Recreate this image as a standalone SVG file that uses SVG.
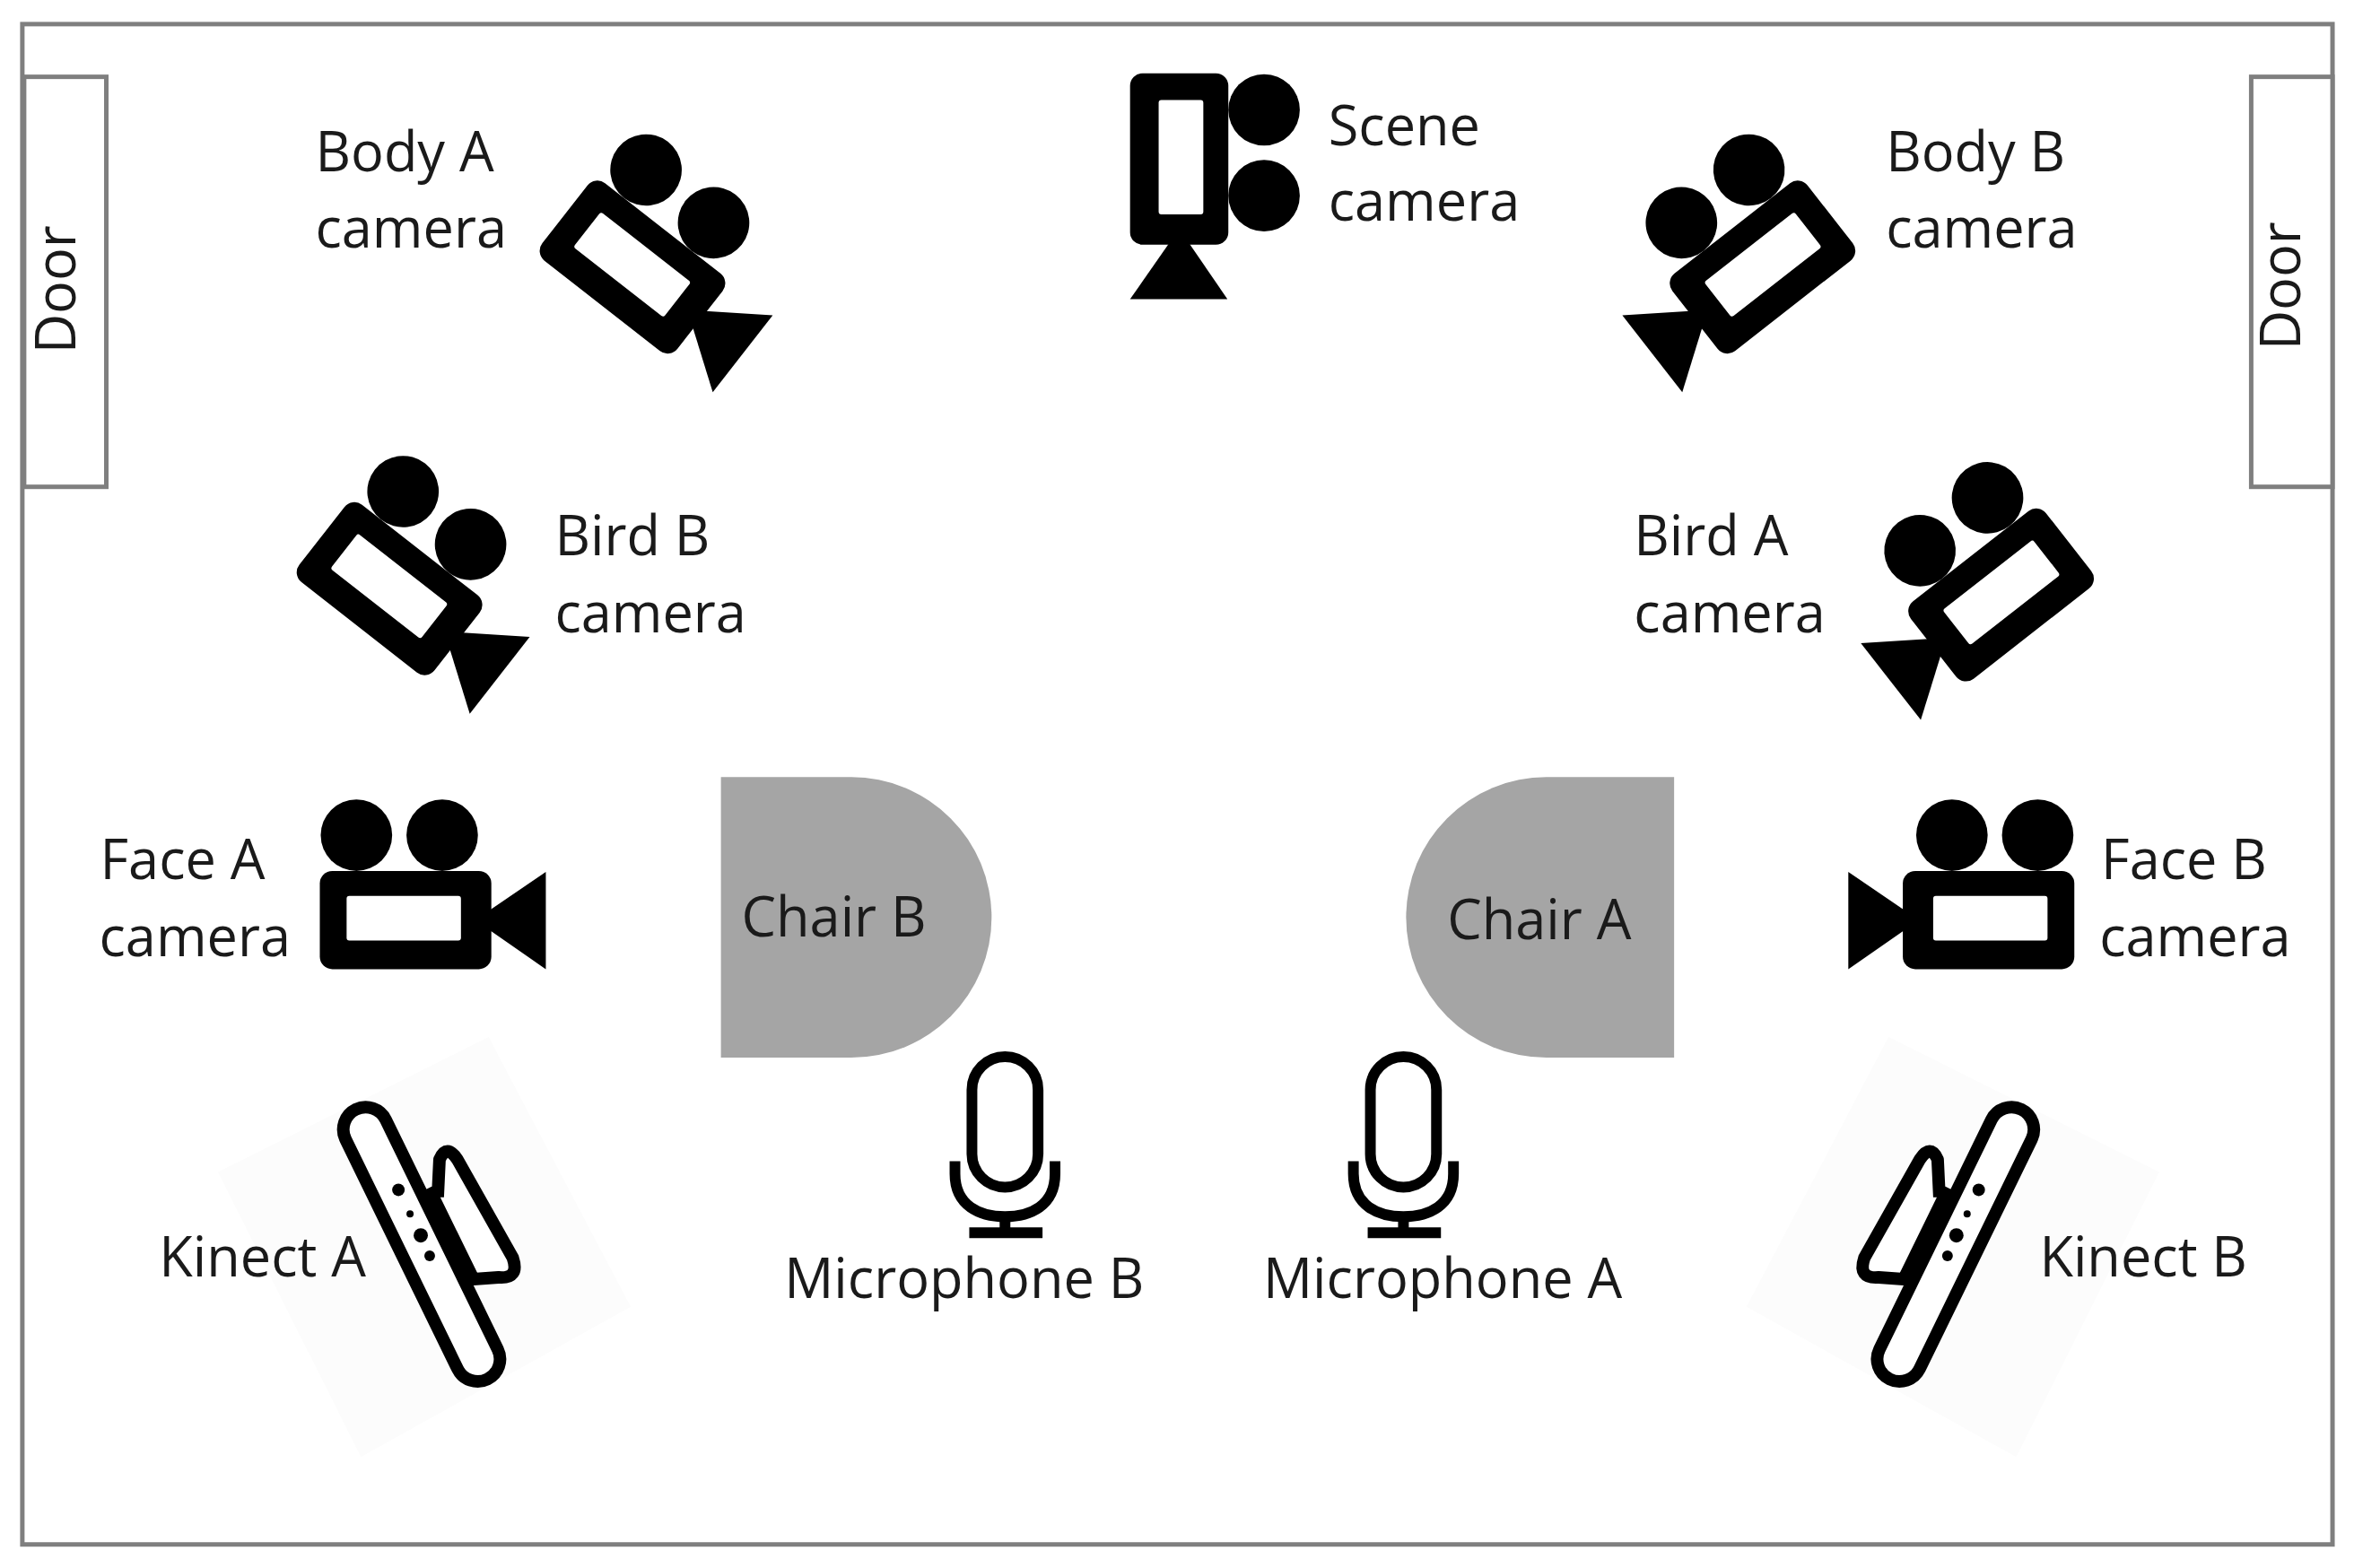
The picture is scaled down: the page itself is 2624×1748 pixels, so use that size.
<svg xmlns="http://www.w3.org/2000/svg" width="2624" height="1748" viewBox="0 0 2624 1748">
<style>
text{font-family:"Open Sans","Noto Sans","Liberation Sans",sans-serif;font-size:61.5px;fill:#1a1a1a}
.wall{fill:#fff;stroke:#7f7f7f;stroke-width:5}
.chair{fill:#a5a5a5}
.mic{fill:none;stroke:#000;stroke-width:12;stroke-linecap:butt}
.kin{fill:#fff;stroke:#000;stroke-width:14;stroke-linejoin:round}
.haze{fill:#fcfcfc}
</style>
<defs>
<g id="cam">
<rect x="-96" y="-55" width="192" height="110" rx="14" fill="#000"/>
<rect x="-66" y="-27" width="128" height="50" rx="3" fill="#fff"/>
<circle cx="-55" cy="-95" r="40" fill="#000"/>
<circle cx="41" cy="-95" r="40" fill="#000"/>
<path d="M78 0 157 -54V55Z" fill="#000"/>
</g>
<g id="micicon">
<rect x="-37" y="-153" width="74" height="146" rx="37" class="mic"/>
<path d="M-56 -36V-22C-56 14 -28 26 0 26S56 14 56 -22V-36" class="mic"/>
<path d="M0 26V44" class="mic"/>
<path d="M-40 44H42" class="mic"/>
</g>
<g id="kinicon">
<polygon class="haze" points="547,1161 706,1463 404,1631 244,1312"/>
<path class="kin" d="M490 1340 492 1298Q500 1280 512 1298L574 1408Q582 1432 558 1430L530 1432 480 1330"/>
<rect class="kin" x="-25" y="-168" width="50" height="336" rx="25" transform="translate(472 1393) rotate(-26)"/>
<circle cx="446" cy="1332" r="7"/><circle cx="459" cy="1359" r="4"/><circle cx="471" cy="1383" r="8"/><circle cx="481" cy="1406" r="6"/>
</g>
</defs>
<rect width="2624" height="1748" fill="#fff"/>
<g id="plan" transform="scale(.9958)">
<g id="room">
<rect class="wall" x="25" y="27" width="2586" height="1702"/>
</g>
<g id="door-left"><rect class="wall" x="27" y="86" width="92" height="459"/><text transform="translate(84 396) rotate(-90)">Door</text></g>
<g id="door-right"><rect class="wall" x="2520" y="86" width="91" height="459"/><text transform="translate(2575 392) rotate(-90)">Door</text></g>
<g id="body-a"><use href="#cam" transform="translate(708 299) rotate(38)"/><text x="353" y="192">Body A</text><text x="353" y="277">camera</text></g>
<g id="scene"><use href="#cam" transform="translate(1320 178) rotate(90)"/><text x="1487" y="163">Scene</text><text x="1487" y="247">camera</text></g>
<g id="body-b"><use href="#cam" transform="translate(1973 299) scale(-1 1) rotate(38)"/><text x="2111" y="192">Body B</text><text x="2111" y="277">camera</text></g>
<g id="bird-b"><use href="#cam" transform="translate(436 659) rotate(38)"/><text x="621" y="622">Bird B</text><text x="621" y="708">camera</text></g>
<g id="bird-a"><use href="#cam" transform="translate(2240 666) scale(-1 1) rotate(38)"/><text x="1829" y="622">Bird A</text><text x="1829" y="708">camera</text></g>
<g id="face-a"><use href="#cam" transform="translate(454 1030)"/><text x="112" y="984">Face A</text><text x="111" y="1070">camera</text></g>
<g id="face-b"><use href="#cam" transform="translate(2226 1030) scale(-1 1)"/><text x="2352" y="984">Face B</text><text x="2350" y="1070">camera</text></g>
<g id="chair-b"><path class="chair" d="M807 870H953A157 157 0 0 1 953 1184H807Z"/><text x="830" y="1048">Chair B</text></g>
<g id="chair-a"><path class="chair" d="M1874 870H1731A157 157 0 0 0 1731 1184H1874Z"/><text x="1620" y="1051">Chair A</text></g>
<g id="mic-b"><use href="#micicon" transform="translate(1125 1336)"/><text x="878" y="1453">Microphone B</text></g>
<g id="mic-a"><use href="#micicon" transform="translate(1571 1336)"/><text x="1414" y="1453">Microphone A</text></g>
<g id="kinect-a"><use href="#kinicon"/><text x="178" y="1429">Kinect A</text></g>
<g id="kinect-b"><use href="#kinicon" transform="translate(2661 0) scale(-1 1)"/><text x="2283" y="1429">Kinect B</text></g>
</g>
</svg>
